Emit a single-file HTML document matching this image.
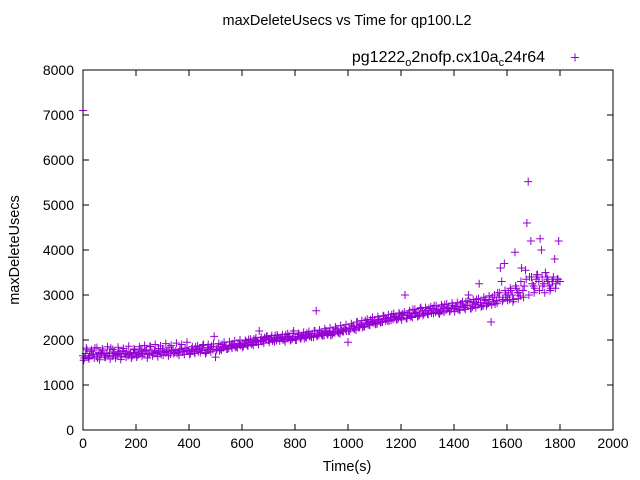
<!DOCTYPE html>
<html><head><meta charset="utf-8"><style>
body{margin:0;background:#fff}
svg{display:block;font-family:"Liberation Sans",sans-serif}
</style></head><body>
<svg id="chart" width="640" height="480" viewBox="0 0 640 480">
<rect width="640" height="480" fill="#fff"/>
<text x="347" y="25" text-anchor="middle" font-size="14.5">maxDeleteUsecs vs Time for qp100.L2</text>
<text transform="translate(19,250) rotate(-90)" text-anchor="middle" font-size="14.5">maxDeleteUsecs</text>
<text x="347" y="471" text-anchor="middle" font-size="14.5">Time(s)</text>
<g id="axes"></g>
<g id="points"></g>
<rect x="83" y="70" width="530" height="360" fill="none" stroke="#000" stroke-width="1"/>
<g>
<text x="545" y="62" text-anchor="end" font-size="16">pg1222<tspan font-size="11" dy="4">o</tspan><tspan dy="-4">2nofp.cx10a</tspan><tspan font-size="11" dy="4">c</tspan><tspan dy="-4">24r64</tspan></text>
<path d="M571,57.5h8M575,53.5v8" stroke="#9400d3" stroke-width="1"/>
</g>
</svg>
<script>
const xTicks=[0,200,400,600,800,1000,1200,1400,1600,1800,2000];
const yTicks=[0,1000,2000,3000,4000,5000,6000,7000,8000];
const usecsA=[1650,1700,1620,1750,1680,1640,1720,1690,1660,1710,1700,1640,1730,1680,1700,1760,1690,1650,1720,1700,
1720,1680,1750,1700,1780,1690,1730,1760,1700,1740,1800,1720,1750,1690,1780,1760,1730,1800,1740,1770,
1760,1800,1740,1790,1820,1780,1760,1830,1800,1790,1620,1850,1800,1830,1870,1820,1860,1880,1850,1900,
1900,1920,1880,1950,1930,1990,1960,2000,1980,2030,2000,2050,2010,1990,2040,2060,2020,2050,2080,2030,
2050,2080,2040,2100,2070,2120,2090,2060,2650,2110,2130,2100,2150,2180,2120,2160,2200,2140,2190,2230,
1950,2250,2300,2220,2280,2350,2300,2380,2330,2400,2420,2360,2450,2400,2480,2430,2500,2460,2520,2480,
2500,2550,2480,2600,2530,2580,2620,2550,2650,2600,2580,2650,2700,2620,2680,2640,2700,2660,2720,2690,
2700,2750,2680,2800,2720,2770,2850,2740,2800,2780,2830,2760,2900,2820,2400,2850,2880,2950,3300,3700,
2950,2900,3000,3950,3050,2980,3100,3550,5520,4200,3200,3350,3300,4000,3250,3400,3200,3300,3800,3350,
3300];
const usecsB=[1600,1780,1650,1690,1820,1600,1700,1760,1620,1650,1820,1700,1660,1740,1640,1700,1750,1680,1640,1780,
1660,1800,1700,1760,1680,1850,1700,1720,1810,1680,1760,1730,1840,1770,1720,1700,1790,1740,1820,1760,
1700,1760,1850,1740,1780,1900,1720,1790,1860,2080,1800,1760,1900,1850,1800,1880,1910,1840,1920,1880,
1860,1960,2010,1900,2020,1960,2200,1970,2050,2080,2010,1980,2100,2070,2050,2000,2120,2080,2010,2200,
2000,2120,2080,2030,2150,2080,2140,2200,2100,2160,2100,2200,2140,2100,2200,2250,2160,2220,2270,2200,
2200,2310,2250,2400,2320,2280,2430,2350,2450,2380,2350,2460,2400,2530,2470,2420,2560,2500,2450,2560,
2580,3000,2550,2520,2680,2600,2540,2720,2580,2660,2700,2600,2760,2650,2580,2740,2790,2700,2640,2760,
2740,2680,2800,2740,2850,3000,2700,2830,2900,3250,2760,2880,2800,2900,2950,2800,3050,3600,2900,3000,
3050,3100,2900,3150,3050,3600,3200,4600,3400,3250,3150,3450,4250,3200,3500,3300,3150,3400,3250,4200];
const usecsC=[1550,1820,1580,1780,1600,1830,1560,1800,1620,1850,1580,1790,1600,1840,1570,1810,1620,1860,1600,1800,
1620,1850,1640,1880,1600,1860,1650,1900,1630,1870,1660,1920,1650,1880,1700,1930,1660,1900,1680,1950,
1680,1850,1700,1870,1720,1880,1700,1900,1740,1910,1760,1920,1780,1950,1800,1960,1820,1980,1830,2000,
1840,1990,1870,2020,1880,2050,1900,2060,1930,2080,1950,2100,1960,2110,1980,2120,1960,2140,1990,2150,
2000,2150,2030,2170,2050,2190,2060,2200,2080,2220,2100,2250,2120,2270,2150,2290,2170,2320,2190,2340,
2200,2360,2250,2400,2280,2430,2300,2460,2340,2500,2360,2520,2390,2540,2420,2560,2440,2590,2460,2600,
2450,2620,2480,2650,2500,2680,2520,2700,2550,2720,2570,2740,2590,2760,2600,2780,2620,2800,2640,2820,
2630,2830,2660,2850,2680,2870,2700,2900,2720,2920,2740,2950,2760,2980,2780,3000,2820,3050,2860,3100,
2880,3150,2850,3200,2920,3300,2950,3350,3000,3400,3050,3450,3100,3400,3050,3350,3100,3300,3150,3350];
const extraTimes=[0];
const extraValues=[7100];
const X0=83,X1=613,Y0=430,Y1=70;
function sx(v){return X0+(v-0)/(2000-0)*(X1-X0);}
function sy(v){return Y0-(v-0)/(8000-0)*(Y0-Y1);}
const NS="http://www.w3.org/2000/svg";
const axes=document.getElementById('axes');
const pts=document.getElementById('points');
xTicks.forEach(t=>{
 const x=sx(t);
 const p=document.createElementNS(NS,'path');
 p.setAttribute('d',`M${x},${Y0}v-6M${x},${Y1}v6`);p.setAttribute('stroke','#000');
 
 
 axes.appendChild(p);
 const tx=document.createElementNS(NS,'text');
 tx.setAttribute('x',x);tx.setAttribute('y',Y0+18);tx.setAttribute('text-anchor','middle');tx.setAttribute('font-size','14');
 tx.textContent=t;
 
 
 axes.appendChild(tx);
});
yTicks.forEach(t=>{
 const y=sy(t);
 const p=document.createElementNS(NS,'path');
 p.setAttribute('d',`M${X0},${y}h6M${X1},${y}h-6`);p.setAttribute('stroke','#000');
 
 
 axes.appendChild(p);
 const tx=document.createElementNS(NS,'text');
 tx.setAttribute('x',X0-9);tx.setAttribute('y',y+5);tx.setAttribute('text-anchor','end');tx.setAttribute('font-size','14');
 tx.textContent=t;
 
 
 axes.appendChild(tx);
});
function mark(t,v){
 const x=sx(t),y=sy(v);
 const p=document.createElementNS(NS,'path');
 p.setAttribute('d',`M${x-4},${y}h8M${x},${y-4}v8`);
 p.setAttribute('stroke','#9400d3');p.setAttribute('stroke-width','1');
 
 
 pts.appendChild(p);
}
usecsC.forEach((v,i)=>mark(i*10+2.5,v));
usecsA.forEach((v,i)=>mark(i*10,v));
usecsB.forEach((v,i)=>mark(i*10+5,v));
extraValues.forEach((v,i)=>mark(extraTimes[i],v));
</script>
</body></html>
